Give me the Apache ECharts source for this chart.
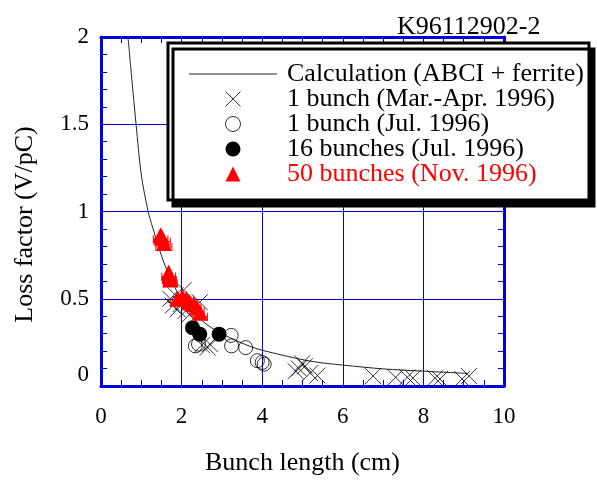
<!DOCTYPE html>
<html>
<head>
<meta charset="utf-8">
<script src="https://cdn.jsdelivr.net/npm/echarts@6/dist/echarts.min.js"></script>
<style>
html, body { margin: 0; padding: 0; background: #fff; }
#chart { width: 597px; height: 481px; }
</style>
</head>
<body>
<div id="chart"></div>
<script>
// calculation curve (bunch length cm, loss factor V/pC)
const calcCurve = [
  [0.67, 2.0], [0.76, 1.77], [0.87, 1.5], [1.0, 1.21], [1.17, 1.0], [1.28, 0.91],
  [1.59, 0.69], [2.0, 0.5], [2.7, 0.34], [3.7, 0.227], [4.44, 0.18], [5.26, 0.14],
  [6.0, 0.12], [7.0, 0.098], [8.0, 0.085], [9.1, 0.072]
]
// 1 bunch (Mar.-Apr. 1996)
const bunch1MarApr = [
  [1.72, 0.50], [1.78, 0.46], [1.85, 0.52], [1.9, 0.44], [1.98, 0.47], [2.05, 0.55],
  [2.1, 0.43], [2.2, 0.41], [2.45, 0.48],
  [2.5, 0.235], [2.65, 0.22], [2.7, 0.24],
  [4.83, 0.085], [4.91, 0.10], [4.99, 0.13], [5.06, 0.113], [5.19, 0.074], [5.37, 0.06],
  [6.75, 0.057], [7.31, 0.05], [7.6, 0.05], [7.74, 0.046], [8.29, 0.045], [8.41, 0.04],
  [8.96, 0.04], [9.13, 0.057]
]
// 1 bunch (Jul. 1996)
const bunch1Jul = [
  [2.34, 0.23], [2.42, 0.24], [3.23, 0.29], [3.24, 0.23], [3.59, 0.22], [3.88, 0.145], [4.0, 0.135], [4.05, 0.125]
]
// 16 bunches (Jul. 1996)
const bunch16Jul = [[2.27, 0.334], [2.45, 0.297], [2.93, 0.297]]
// 50 bunches (Nov. 1996)
const bunch50Nov = [
  [1.48, 0.864], [1.52, 0.85], [1.56, 0.82], [1.68, 0.65], [1.70, 0.63], [1.72, 0.61],
  [1.9, 0.50], [2.02, 0.51], [2.12, 0.50], [2.2, 0.48], [2.3, 0.47], [2.38, 0.45], [2.46, 0.42]
]
const bunch50Err = [0.18, 0.2, 0.2, 0.17, 0.17, 0.17, 0.18, 0.18, 0.18, 0.18, 0.18, 0.18, 0.18]

const legendNames = [
  'Calculation (ABCI + ferrite)',
  '1 bunch (Mar.-Apr. 1996)',
  '1 bunch (Jul. 1996)',
  '16 bunches (Jul. 1996)',
  '50 bunches (Nov. 1996)'
]

const blue = '#0000dd'
const serif = '"Liberation Serif", "DejaVu Serif", serif'
const crossPath = 'path://M0,0L10,10M10,0L0,10'
const trianglePath = 'path://M5,0L10,10L0,10Z'
const lineIconPath = 'path://M0,0L88,0L88,1L0,1Z'

function xAxisOf(pos) {
  return {
    type: 'value', position: pos, min: 0, max: 10, interval: 2,
    name: pos === 'bottom' ? 'Bunch length (cm)' : '',
    nameLocation: 'middle', nameGap: 64,
    nameTextStyle: { fontFamily: serif, fontSize: 26, color: '#000' },
    axisLine: { show: true, onZero: false, lineStyle: { color: blue, width: 3 } },
    axisTick: { show: true, inside: true, length: 6, lineStyle: { color: blue } },
    minorTick: { show: true, splitNumber: 4, length: 6, lineStyle: { color: blue } },
    splitLine: { show: pos === 'bottom', lineStyle: { color: blue, width: 1 } },
    axisLabel: { show: pos === 'bottom', margin: 19, fontFamily: serif, fontSize: 23, color: '#000' }
  }
}

function yAxisOf(pos) {
  return {
    type: 'value', position: pos, min: 0, max: 2, interval: 0.5,
    name: pos === 'left' ? 'Loss factor (V/pC)' : '',
    nameLocation: 'middle', nameGap: 63,
    nameTextStyle: { fontFamily: serif, fontSize: 26, color: '#000', padding: [0, 26, 0, 0] },
    axisLine: { show: true, onZero: false, lineStyle: { color: blue, width: 3 } },
    axisTick: { show: true, inside: true, length: 6, lineStyle: { color: blue } },
    minorTick: { show: true, splitNumber: 5, length: 6, lineStyle: { color: blue } },
    splitLine: { show: pos === 'left', lineStyle: { color: blue, width: 1 } },
    axisLabel: {
      show: pos === 'left', margin: 12, fontFamily: serif, fontSize: 23, color: '#000',
      verticalAlignMinLabel: 'bottom'
    }
  }
}

const chart = echarts.init(document.getElementById('chart'))

chart.setOption({
  animation: false,
  backgroundColor: '#fff',
  title: {
    text: 'K96112902-2', left: 392, top: 9,
    textStyle: { fontFamily: serif, fontSize: 26, fontWeight: 'normal', color: '#000' }
  },
  grid: { left: 101, right: 93, top: 37, bottom: 91 },
  xAxis: [xAxisOf('bottom'), xAxisOf('top')],
  yAxis: [yAxisOf('left'), yAxisOf('right')],
  legend: {
    orient: 'vertical', left: 168, top: 43,
    padding: [18, 5, 13, 21],
    itemWidth: 88, itemHeight: 15, itemGap: -1,
    backgroundColor: '#fff', borderColor: '#000', borderWidth: 3,
    shadowColor: '#000', shadowBlur: 0, shadowOffsetX: 5, shadowOffsetY: 6,
    itemStyle: { borderWidth: 1 },
    textStyle: { fontFamily: serif, fontSize: 26, color: '#000', lineHeight: 15, padding: [0, 0, 0, 5] },
    data: [
      { name: legendNames[0], icon: lineIconPath, itemStyle: { color: '#222', borderWidth: 0 } },
      { name: legendNames[1] },
      { name: legendNames[2] },
      { name: legendNames[3] },
      { name: legendNames[4], icon: trianglePath, itemStyle: { color: '#ff0000', borderWidth: 0 }, textStyle: { color: '#ff0000' } }
    ]
  },
  series: [
    {
      name: legendNames[0], type: 'line', data: calcCurve, symbol: 'none', smooth: 0.3,
      lineStyle: { color: '#222', width: 1 }, itemStyle: { color: '#222' }, z: 2
    },
    {
      name: legendNames[1], type: 'scatter', data: bunch1MarApr, symbol: crossPath, symbolSize: 16,
      itemStyle: { color: 'transparent', borderColor: '#000', borderWidth: 1 }, z: 3
    },
    {
      name: legendNames[2], type: 'scatter', data: bunch1Jul, symbol: 'circle', symbolSize: 14,
      itemStyle: { color: 'transparent', borderColor: '#000', borderWidth: 1 }, z: 4
    },
    {
      name: legendNames[3], type: 'scatter', data: bunch16Jul, symbol: 'circle', symbolSize: 15,
      itemStyle: { color: '#000', opacity: 1 }, z: 5
    },
    {
      name: legendNames[4], type: 'scatter', data: bunch50Nov, symbol: trianglePath, symbolSize: 16,
      itemStyle: { color: '#ff0000', opacity: 1 }, z: 6
    },
    {
      name: 'err50', type: 'custom', z: 7,
      data: bunch50Nov.map((p, i) => [p[0], p[1], bunch50Err[i]]),
      encode: { x: 0, y: 1 },
      renderItem(params, api) {
        const x = api.value(0), y = api.value(1), e = api.value(2)
        const a = api.coord([x - e, y]), b = api.coord([x + e, y])
        const h = 4
        const st = { stroke: '#ff0000', lineWidth: 1 }
        return {
          type: 'group',
          children: [
            { type: 'line', shape: { x1: a[0], y1: a[1] + 4, x2: b[0], y2: b[1] + 4 }, style: st },
            { type: 'line', shape: { x1: a[0], y1: a[1] + 4 - h, x2: a[0], y2: a[1] + 4 + h }, style: st },
            { type: 'line', shape: { x1: b[0], y1: b[1] + 4 - h, x2: b[0], y2: b[1] + 4 + h }, style: st }
          ]
        }
      }
    }
  ]
})
</script>
</body>
</html>
